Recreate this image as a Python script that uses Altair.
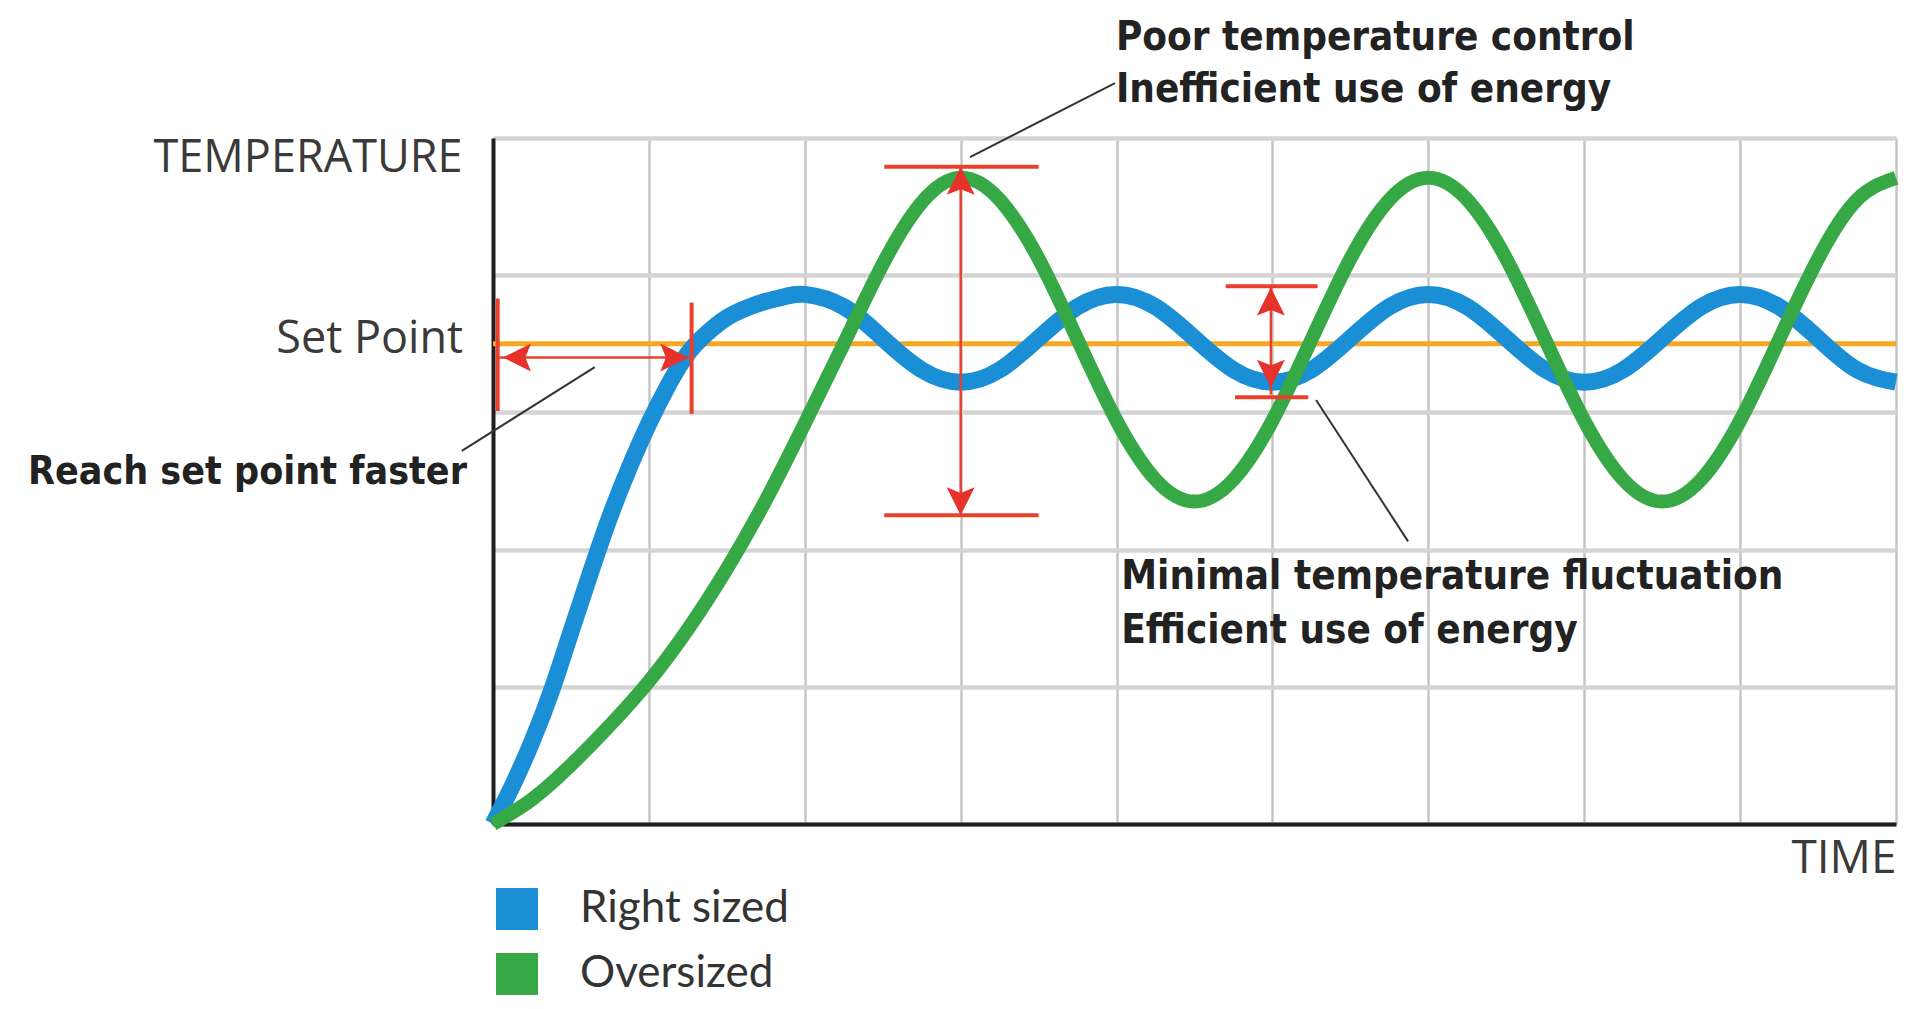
import altair as alt
import pandas as pd

# ---- data (time in grid columns 0..9, temperature in grid rows 0..5) ----
blue_t = [0, 0.125, 0.25, 0.375, 0.5, 0.625, 0.75, 0.875, 1.0, 1.125, 1.25, 1.375, 1.5, 1.625, 1.75, 1.875, 2.0,
          2.25, 2.5, 2.75, 3.0, 3.25, 3.5, 3.75, 4.0,
          4.25, 4.5, 4.75, 5.0, 5.25, 5.5, 5.75, 6.0,
          6.25, 6.5, 6.75, 7.0, 7.25, 7.5, 7.75, 8.0,
          8.25, 8.5, 8.75, 9.0]
blue_v = [0, 0.28, 0.6, 0.97, 1.4, 1.83, 2.24, 2.6, 2.92, 3.2, 3.43, 3.58, 3.69, 3.76, 3.81, 3.845, 3.86,
          3.77, 3.54, 3.31, 3.22, 3.31, 3.54, 3.77, 3.86,
          3.77, 3.54, 3.31, 3.22, 3.31, 3.54, 3.77, 3.86,
          3.77, 3.54, 3.31, 3.22, 3.31, 3.54, 3.77, 3.86,
          3.77, 3.54, 3.31, 3.22]

green_t = [0, 0.25, 0.5, 0.75, 1.0, 1.25, 1.5, 1.75, 2.0, 2.25, 2.5, 2.75, 3.0,
           3.25, 3.5, 3.75, 4.0, 4.25, 4.5, 4.75, 5.0, 5.25, 5.5, 5.75, 6.0,
           6.25, 6.5, 6.75, 7.0, 7.25, 7.5, 7.75, 8.0, 8.25, 8.5, 8.75, 9.0]
green_v = [0, 0.18, 0.43, 0.72, 1.04, 1.42, 1.86, 2.36, 2.92, 3.5, 4.08, 4.53, 4.71,
           4.55, 4.12, 3.53, 2.94, 2.51, 2.35, 2.51, 2.94, 3.53, 4.12, 4.55, 4.71,
           4.55, 4.12, 3.53, 2.94, 2.51, 2.35, 2.51, 2.94, 3.53, 4.12, 4.55, 4.71]

series_names = ["Right sized", "Oversized"]
series_colors = ["#1a8fd6", "#37a846"]
set_point = 3.5

# measurement markers (red)
stem_x = [3.0, 4.99, 0.04]
stem_x2 = [3.0, 4.99, 1.27]
stem_y = [2.25, 3.13, 3.40]
stem_y2 = [4.79, 3.92, 3.40]

cap_x = [2.51, 2.51, 4.70, 4.76, 0.03, 1.274]
cap_x2 = [3.50, 3.50, 5.29, 5.23, 0.03, 1.274]
cap_y = [4.79, 2.25, 3.92, 3.11, 3.01, 2.99]
cap_y2 = [4.79, 2.25, 3.92, 3.11, 3.83, 3.80]

head_x = [3.0, 3.0, 4.99, 4.99, 0.064, 1.253]
head_y = [4.79, 2.25, 3.91, 3.18, 3.40, 3.40]
head_dir = ["up", "down", "up", "down", "left", "right"]

# leader lines
lead_x = [3.06, 5.28, -0.20]
lead_y = [4.86, 3.09, 2.72]
lead_x2 = [3.99, 5.87, 0.653]
lead_y2 = [5.40, 2.06, 3.33]

# annotation texts
note_text = ["Poor temperature control", "Inefficient use of energy",
             "Minimal temperature fluctuation", "Efficient use of energy"]
note_x = [3.996, 3.996, 4.03, 4.03]
note_y = [5.645, 5.266, 1.714, 1.32]

reach_text = ["Reach set point faster"]
reach_x = [-0.167]
reach_y = [2.48]

sp_text = ["Set Point"]
sp_x = [-0.192]
sp_y = [3.435]

# ---- build tables ----
blue_df = pd.DataFrame({"t": blue_t, "temp": blue_v, "series": series_names[0]})
green_df = pd.DataFrame({"t": green_t, "temp": green_v, "series": series_names[1]})
all_df = pd.concat([blue_df, green_df], ignore_index=True)

paths = {
    "up": "M0,0L1,2L0,1.6L-1,2Z",
    "down": "M0,0L1,-2L0,-1.6L-1,-2Z",
    "left": "M0,0L2,-1L1.6,0L2,1Z",
    "right": "M0,0L-2,-1L-1.6,0L-2,1Z",
}

stems_df = pd.DataFrame({"x": stem_x, "x2": stem_x2, "y": stem_y, "y2": stem_y2})
caps_df = pd.DataFrame({"x": cap_x, "x2": cap_x2, "y": cap_y, "y2": cap_y2})
heads_df = pd.DataFrame({"x": head_x, "y": head_y, "shape": [paths[d] for d in head_dir]})
lead_df = pd.DataFrame({"x": lead_x, "x2": lead_x2, "y": lead_y, "y2": lead_y2})
notes_df = pd.DataFrame({"x": note_x, "y": note_y, "label": note_text})
reach_df = pd.DataFrame({"x": reach_x, "y": reach_y, "label": reach_text})
sp_df = pd.DataFrame({"x": sp_x, "y": sp_y, "label": sp_text})
setp_df = pd.DataFrame({"temp": [set_point], "t0": [0], "t1": [9]})

# ---- scales / styles ----
xs = alt.Scale(domain=[0, 9], nice=False, zero=False)
ys = alt.Scale(domain=[0, 5], nice=False, zero=False)
cs = alt.Scale(domain=series_names, range=series_colors)

LABEL_FONT = "Open Sans"
BOLD_FONT = "DejaVu Sans Condensed"
RED = "#e8402d"
LABEL_COLOR = "#3a3a3a"

x_axis = alt.Axis(values=list(range(10)), grid=True, gridColor="#c4c4c4", gridWidth=2.5,
                  ticks=False, labels=False, domainColor="#1e1e1e", domainWidth=4,
                  title="TIME", titleFont=LABEL_FONT, titleFontSize=46, titleFontWeight="normal",
                  titleColor=LABEL_COLOR, titleAnchor="end", titleAlign="right", titlePadding=12)
y_axis = alt.Axis(values=[0, 1, 2, 3, 4, 5], grid=True, gridColor="#d4d4d4", gridWidth=4.5,
                  ticks=False, labels=False, domainColor="#1e1e1e", domainWidth=4,
                  title="TEMPERATURE", titleFont=LABEL_FONT, titleFontSize=45, titleFontWeight="normal",
                  titleColor=LABEL_COLOR, titleAngle=0, titleAlign="right", titleBaseline="alphabetic",
                  titleX=-31, titleY=33)


def X(field):
    return alt.X(field, scale=xs, axis=x_axis)


def Y(field):
    return alt.Y(field, scale=ys, axis=y_axis)


setp = alt.Chart(setp_df).mark_rule(color="#f6a823", strokeWidth=5).encode(
    x=X("t0:Q"), x2="t1:Q", y=Y("temp:Q"))

blue_line = alt.Chart(blue_df).mark_line(strokeWidth=17, interpolate="natural",
                                         color=series_colors[0]).encode(x=X("t:Q"), y=Y("temp:Q"))
green_line = alt.Chart(green_df).mark_line(strokeWidth=14, interpolate="natural",
                                           color=series_colors[1]).encode(x=X("t:Q"), y=Y("temp:Q"))

legend_layer = alt.Chart(all_df).transform_filter("datum.t < -100").mark_square(
    size=1764, opacity=1, filled=True).encode(
    x=X("t:Q"), y=Y("temp:Q"),
    color=alt.Color("series:N", scale=cs, legend=alt.Legend(
        title=None, orient="none", legendX=2, legendY=749, padding=0,
        symbolType="square", symbolSize=1764, symbolStrokeWidth=0, symbolOpacity=1,
        labelFont="Lato", labelFontSize=44, labelColor="#333333", labelOffset=41,
        labelLimit=0, rowPadding=21)),
)

stems = alt.Chart(stems_df).mark_rule(color=RED, strokeWidth=2.5).encode(
    x=X("x:Q"), x2="x2:Q", y=Y("y:Q"), y2="y2:Q")
caps = alt.Chart(caps_df).mark_rule(color=RED, strokeWidth=4).encode(
    x=X("x:Q"), x2="x2:Q", y=Y("y:Q"), y2="y2:Q")
heads = alt.Chart(heads_df).mark_point(filled=True, size=784, color="#e6322a", opacity=1, strokeWidth=0).encode(
    x=X("x:Q"), y=Y("y:Q"), shape=alt.Shape("shape:N", scale=None))
leads = alt.Chart(lead_df).mark_rule(color="#333333", strokeWidth=2).encode(
    x=X("x:Q"), x2="x2:Q", y=Y("y:Q"), y2="y2:Q")

notes = alt.Chart(notes_df).mark_text(font=BOLD_FONT, fontWeight="bold", fontSize=40, align="left",
                                      baseline="alphabetic", color="#222222").encode(
    x=X("x:Q"), y=Y("y:Q"), text="label:N")
reach = alt.Chart(reach_df).mark_text(font=BOLD_FONT, fontWeight="bold", fontSize=39, align="right",
                                      baseline="alphabetic", color="#222222").encode(
    x=X("x:Q"), y=Y("y:Q"), text="label:N")
sp = alt.Chart(sp_df).mark_text(font=LABEL_FONT, fontSize=45, align="right",
                                baseline="alphabetic", color=LABEL_COLOR).encode(
    x=X("x:Q"), y=Y("y:Q"), text="label:N")

chart = alt.layer(setp, blue_line, green_line, legend_layer, stems, caps, heads, leads, notes, reach, sp).properties(
    width=1403, height=686,
    padding={"left": 485, "top": 130, "right": 3, "bottom": 172},
    autosize=alt.AutoSizeParams(type="none"),
    background="white",
).configure_view(stroke=None)

chart.save("out.html", embed_options={"renderer": "svg", "actions": False})
